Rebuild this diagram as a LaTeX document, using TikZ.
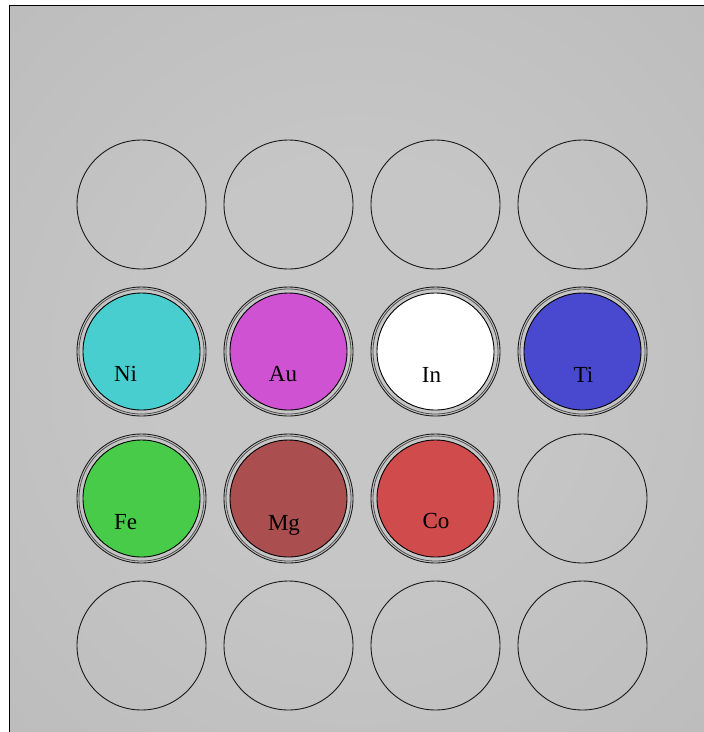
\documentclass[tikz,border=0pt]{standalone}
\usepackage{fontspec}
\setmainfont{Liberation Serif}
\definecolor{panelmid}{HTML}{C6C6C6}
\definecolor{paneledge}{HTML}{B4B4B4}
\definecolor{panelcorner}{HTML}{AFAFAF}
\definecolor{nickel}{HTML}{49CED0}
\definecolor{gold}{HTML}{CF52D3}
\definecolor{indium}{HTML}{FFFFFF}
\definecolor{titanium}{HTML}{4949CF}
\definecolor{iron}{HTML}{48CB48}
\definecolor{magnesium}{HTML}{AA4E4F}
\definecolor{cobalt}{HTML}{D04B4C}
\pgfdeclareradialshading{tray}{\pgfpoint{0bp}{0bp}}{%
  color(0bp)=(panelmid); color(14bp)=(panelmid);
  color(56bp)=(paneledge); color(72bp)=(panelcorner)}

\begin{document}
\begin{tikzpicture}[x=1pt,y=-1pt,
  well/.style={circle,draw=black!90,line width=0.9pt,inner sep=0pt,
    minimum size=129pt},
  rim/.style={circle,draw=black!70,line width=0.8pt,inner sep=0pt,
    minimum size=125pt},
  cup/.style={circle,draw=black,line width=0.9pt,inner sep=0pt,
    minimum size=117pt},
  tag/.style={anchor=base,text=black,font=\fontsize{23}{23}\selectfont}]
  \useasboundingbox (0,0) rectangle (704,732);

  % Tray background
  \shade[shading=tray] (9.5,5.5) rectangle (704,732);
  \draw[line width=0.9pt] (9.5,732) -- (9.5,5.5) -- (704,5.5);

  % Empty wells, 4 x 4 grid
  \foreach \r in {0,...,3}{
    \foreach \c in {0,...,3}{
      \node[well] (well-\r-\c) at ({141.5+147*\c},{204.5+147*\r}) {};
    }
  }

  % Filled wells with their element labels
  \foreach \sym/\r/\c/\tint/\tx/\ty in {
      Ni/1/0/nickel/-16/30, Au/1/1/gold/-5.5/30,
      In/1/2/indium/-4/30.5, Ti/1/3/titanium/1/30.5,
      Fe/2/0/iron/-16/30.5, Mg/2/1/magnesium/-4.5/31.5,
      Co/2/2/cobalt/0.5/29.5}{
    \node[rim] (rim-\sym) at (well-\r-\c.center) {};
    \node[cup,fill=\tint] (cup-\sym) at (well-\r-\c.center) {};
    \node[tag] (tag-\sym) at ([xshift=\tx pt,yshift=-\ty pt]cup-\sym.center)
      {\sym};
  }
\end{tikzpicture}
\end{document}
